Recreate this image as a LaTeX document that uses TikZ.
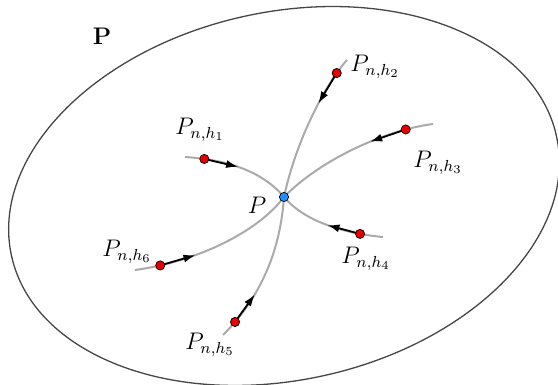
\documentclass[tikz,border=0pt]{standalone}
\usetikzlibrary{arrows.meta}
\definecolor{dotred}{RGB}{230,0,0}
\definecolor{dotblue}{RGB}{30,144,255}
\definecolor{rimgray}{RGB}{70,70,70}
\definecolor{pathgray}{RGB}{170,170,170}
\tikzset{
  flowcurve/.style={draw=pathgray, line width=1pt},
  flowarrow/.style={draw=black, line width=0.9pt, -{Latex[length=6pt,width=4pt]}},
  reddot/.style={circle, fill=dotred, draw=black, line width=0.35pt, inner sep=0pt, minimum size=4.6pt},
  bluedot/.style={circle, fill=dotblue, draw=black, line width=0.35pt, inner sep=0pt, minimum size=4.6pt},
  ptlabel/.style={inner sep=0.75pt, font=\large}
}
\begin{document}
\begin{tikzpicture}[x=0.5pt,y=0.5pt,yscale=-1,xscale=1]
\useasboundingbox (0,0) rectangle (558,385);
%Shape: Ellipse
\draw [rimgray, line width=0.65pt, rotate around={-12.4:(284,196)}] (284,196) ellipse [x radius=279, y radius=184];
% centre and free ends
\coordinate (c) at (284,197);
\coordinate (e1) at (185,157);
\coordinate (e2) at (347,60);
\coordinate (e3) at (433,124);
\coordinate (e4) at (383,237);
\coordinate (e5) at (223,335);
\coordinate (e6) at (135,270);
%Curve Lines h1 - P - h4
\draw [flowcurve] (e1) .. controls (215,159) and (258,166) .. (c) coordinate[pos=0.2] (h1) coordinate[pos=0.52] (t1);
\draw [flowcurve] (c) .. controls (306.5,223.8) and (350,234) .. (e4) coordinate[pos=0.48] (t4) coordinate[pos=0.78] (h4);
%Curve Lines h2 - P - h5
\draw [flowcurve] (e2) .. controls (327,82) and (296.5,138.3) .. (c) coordinate[pos=0.16] (h2) coordinate[pos=0.42] (t2);
\draw [flowcurve] (c) .. controls (280,255) and (258,300) .. (e5) coordinate[pos=0.65] (t5) coordinate[pos=0.88] (h5);
%Curve Lines h3 - P - h6
\draw [flowcurve] (e3) .. controls (385,130) and (320,160) .. (c) coordinate[pos=0.18] (h3) coordinate[pos=0.4] (t3);
\draw [flowcurve] (c) .. controls (257,233) and (195,262) .. (e6) coordinate[pos=0.66] (t6) coordinate[pos=0.86] (h6);
%Straight Lines
\foreach \i in {1,...,6}
  \draw [flowarrow] (h\i) -- (t\i);
%Shape: Circles
\foreach \i in {1,...,6}
  \node [reddot] (d\i) at (h\i) {};
\node [bluedot] (P) at (c) {};
% Text Node
\node [ptlabel] (lP) at (257,205) {$P$};
\node [ptlabel] (l1) at (200,130) {$P_{n,h_1}$};
\node [ptlabel] (l2) at (375,67) {$P_{n,h_2}$};
\node [ptlabel] (l3) at (438,163) {$P_{n,h_3}$};
\node [ptlabel] (l4) at (366,259) {$P_{n,h_4}$};
\node [ptlabel] (l5) at (210,345) {$P_{n,h_5}$};
\node [ptlabel] (l6) at (127,252) {$P_{n,h_6}$};
% Text Node
\node [ptlabel] (lset) at (102,36) {$\mathbf{P}$};
\end{tikzpicture}
\end{document}
